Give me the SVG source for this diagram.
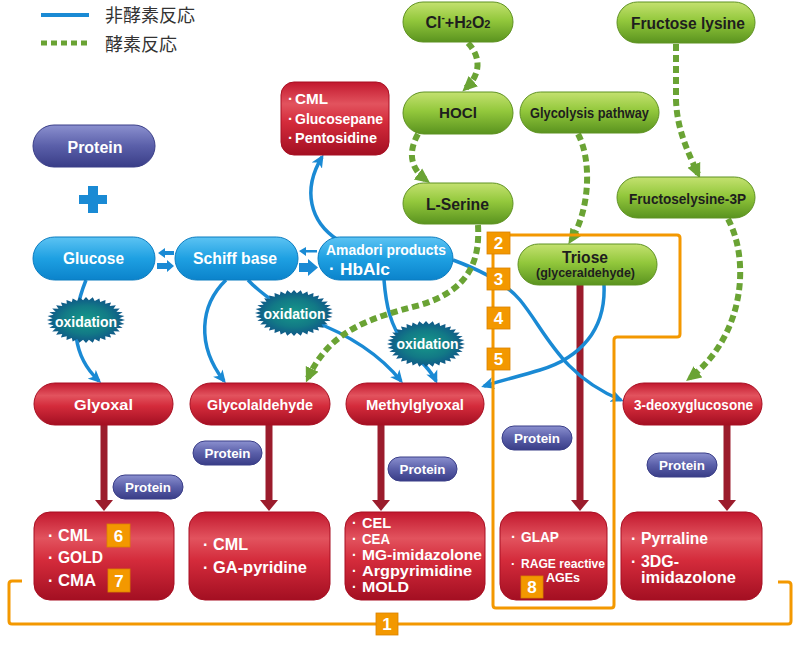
<svg xmlns="http://www.w3.org/2000/svg" xmlns:xlink="http://www.w3.org/1999/xlink" width="800" height="646" viewBox="0 0 800 646">
<style>
.t{font-family:"Liberation Sans",Arial,sans-serif;font-weight:bold}
.w{fill:#fff}
.k{fill:#1e1e1e}
.blue{fill:none;stroke:#1a8ad4;stroke-width:3.5;marker-end:url(#mBlue)}
.green{fill:none;stroke:#6aa334;stroke-width:6;stroke-dasharray:7 4;marker-end:url(#mGreen)}
.dred{stroke:#9b1c2c;stroke-width:7}
.orange{fill:none;stroke:#f39800;stroke-width:3}
.lab{fill:#f39800;stroke:#d98200;stroke-width:0.8}
.gp{fill:url(#gGreen);stroke:#5f9222;stroke-width:1}
.bp{fill:url(#gBlue);stroke:#0b7cc0;stroke-width:1}
.pp{fill:url(#gPurple);stroke:#3a3e88;stroke-width:1}
.rp{fill:url(#gRed);stroke:#a80f22;stroke-width:1}
</style>
<defs>
<linearGradient id="gGreen" x1="0" y1="0" x2="0" y2="1">
<stop offset="0" stop-color="#c4e170"/><stop offset="0.45" stop-color="#93c83c"/><stop offset="1" stop-color="#5a931f"/>
</linearGradient>
<linearGradient id="gBlue" x1="0" y1="0" x2="0" y2="1">
<stop offset="0" stop-color="#5cc3f3"/><stop offset="0.5" stop-color="#1ea0e2"/><stop offset="1" stop-color="#0b83cb"/>
</linearGradient>
<linearGradient id="gPurple" x1="0" y1="0" x2="0" y2="1">
<stop offset="0" stop-color="#8b90cf"/><stop offset="0.5" stop-color="#5a5fa9"/><stop offset="1" stop-color="#393d87"/>
</linearGradient>
<linearGradient id="gRed" x1="0" y1="0" x2="0" y2="1">
<stop offset="0" stop-color="#c2182e"/><stop offset="0.3" stop-color="#e2535e"/><stop offset="0.55" stop-color="#d42b3b"/><stop offset="1" stop-color="#a30f22"/>
</linearGradient>
<radialGradient id="gTeal" cx="0.5" cy="0.5" r="0.5">
<stop offset="0" stop-color="#17998a"/><stop offset="0.6" stop-color="#127a86"/><stop offset="1" stop-color="#0f5688"/>
</radialGradient>
<marker id="mBlue" markerUnits="userSpaceOnUse" markerWidth="13" markerHeight="13" viewBox="0 0 13 13" refX="10" refY="6.5" orient="auto">
<path d="M0,0.5 L13,6.5 L0,12.5 L3.5,6.5 Z" fill="#1a8ad4"/>
</marker>
<marker id="mGreen" markerUnits="userSpaceOnUse" markerWidth="16" markerHeight="16" viewBox="0 0 16 16" refX="10" refY="8" orient="auto">
<path d="M0,1 L15,8 L0,15 Z" fill="#6aa334"/>
</marker>
<path id="spiky" d="M100,0 L85.7,7.5 98.5,17.4 83.1,22.3 94,34.2 77.9,36.3 86.6,50 70.5,49.3 76.6,64.3 60.8,60.8 64.3,76.6 49.3,70.5 50,86.6 36.3,77.9 34.2,94 22.3,83.1 17.4,98.5 7.5,85.7 0,100 -7.5,85.7 -17.4,98.5 -22.3,83.1 -34.2,94 -36.3,77.9 -50,86.6 -49.3,70.5 -64.3,76.6 -60.8,60.8 -76.6,64.3 -70.5,49.3 -86.6,50 -77.9,36.3 -94,34.2 -83.1,22.3 -98.5,17.4 -85.7,7.5 -100,0 -85.7,-7.5 -98.5,-17.4 -83.1,-22.3 -94,-34.2 -77.9,-36.3 -86.6,-50 -70.5,-49.3 -76.6,-64.3 -60.8,-60.8 -64.3,-76.6 -49.3,-70.5 -50,-86.6 -36.3,-77.9 -34.2,-94 -22.3,-83.1 -17.4,-98.5 -7.5,-85.7 0,-100 7.5,-85.7 17.4,-98.5 22.3,-83.1 34.2,-94 36.3,-77.9 50,-86.6 49.3,-70.5 64.3,-76.6 60.8,-60.8 76.6,-64.3 70.5,-49.3 86.6,-50 77.9,-36.3 94,-34.2 83.1,-22.3 98.5,-17.4 85.7,-7.5 Z"/>
</defs>

<!-- Legend -->
<g id="legend">
<line x1="41" y1="15" x2="89" y2="15" stroke="#1a8ad4" stroke-width="4"/>
<line x1="41" y1="43" x2="89" y2="43" stroke="#6aa334" stroke-width="5" stroke-dasharray="6 4"/>
<text x="105" y="22" font-family="'Noto Sans CJK JP',sans-serif" font-size="18" fill="#333">非酵素反応</text>
<text x="105" y="51" font-family="'Noto Sans CJK JP',sans-serif" font-size="18" fill="#333">酵素反応</text>
</g>

<!-- dark red arrows -->
<g id="protein-arrows">
<line class="dred" x1="104" y1="425" x2="104" y2="502"/><polygon points="95,500 113,500 104,511" fill="#9b1c2c"/>
<line class="dred" x1="269" y1="425" x2="269" y2="502"/><polygon points="260,500 278,500 269,511" fill="#9b1c2c"/>
<line class="dred" x1="381" y1="425" x2="381" y2="502"/><polygon points="372,500 390,500 381,511" fill="#9b1c2c"/>
<line class="dred" x1="580" y1="285" x2="580" y2="502"/><polygon points="571,500 589,500 580,511" fill="#9b1c2c"/>
<line class="dred" x1="727" y1="425" x2="727" y2="502"/><polygon points="718,500 736,500 727,511" fill="#9b1c2c"/>
</g>

<!-- connectors -->
<g id="connectors">
<path class="blue" d="M86 280 C74 310, 66 350, 99 381"/>
<path class="blue" d="M226 280 C200 305, 196 345, 224 381"/>
<path class="blue" d="M248 280 C265 298, 285 310, 310 320 C350 335, 380 355, 401 381"/>
<path class="blue" d="M384 280 C386 305, 390 325, 405 345 C420 362, 430 368, 436 381"/>
<path class="blue" d="M338 240 C310 222, 302 190, 322 157"/>
<path class="blue" d="M453 260 C480 270, 505 282, 520 300 C545 330, 560 375, 621 400"/>
<path class="blue" d="M604 285 C606 330, 580 358, 540 370 C520 376, 500 381, 484 386"/>
<polygon points="158,253 165,248 165,251 174,251 174,255 165,255 165,258" fill="#1a8ad4"/>
<polygon points="174,266 167,260 167,263 157,263 157,269 167,269 167,272" fill="#1a8ad4"/>
<polygon points="299,251 306,247 306,250 317,250 317,252.5 306,252.5 306,256" fill="#1a8ad4"/>
<polygon points="299,263 308,263 308,259 318,267.5 308,276 308,272 299,272" fill="#1a8ad4"/>
<path class="green" d="M468 43 C482 58, 480 75, 466 88"/>
<path class="green" d="M418 134 C408 152, 410 168, 426 180"/>
<path class="green" d="M478 225 C480 260, 470 290, 420 305 C370 318, 330 330, 308 378"/>
<path class="green" d="M578 134 C592 160, 590 210, 571 240"/>
<path class="green" d="M676 44 L676 100 C677 130, 688 152, 698 174"/>
<path class="green" d="M728 219 C750 260, 745 335, 690 378"/>
</g>

<!-- oxidation -->
<g id="ox1"><use xlink:href="#spiky" transform="translate(86,320) scale(0.39,0.23)" fill="url(#gTeal)"/><text class="t w" x="86" y="327" font-size="14" text-anchor="middle" textLength="62" lengthAdjust="spacingAndGlyphs">oxidation</text></g>
<g id="ox2"><use xlink:href="#spiky" transform="translate(294,313) scale(0.39,0.23)" fill="url(#gTeal)"/><text class="t w" x="294.5" y="319" font-size="14" text-anchor="middle" textLength="62" lengthAdjust="spacingAndGlyphs">oxidation</text></g>
<g id="ox3"><use xlink:href="#spiky" transform="translate(426,344) scale(0.39,0.23)" fill="url(#gTeal)"/><text class="t w" x="427.5" y="349" font-size="14" text-anchor="middle" textLength="62" lengthAdjust="spacingAndGlyphs">oxidation</text></g>

<!-- green nodes -->
<g id="cl"><rect class="gp" x="403" y="2" width="110" height="40" rx="20"/><text class="t k" x="458" y="28" font-size="16" text-anchor="middle">Cl<tspan font-size="10" dy="-7">-</tspan><tspan dy="7">+H</tspan><tspan font-size="11">2</tspan>O<tspan font-size="11">2</tspan></text></g>
<g id="hocl"><rect class="gp" x="403" y="92" width="110" height="42" rx="21"/><text class="t k" x="458" y="118" font-size="15" text-anchor="middle" textLength="38" lengthAdjust="spacingAndGlyphs">HOCl</text></g>
<g id="glycolysis"><rect class="gp" x="520" y="92" width="139" height="41" rx="20.5"/><text class="t k" x="589.5" y="118" font-size="15" text-anchor="middle" textLength="119" lengthAdjust="spacingAndGlyphs">Glycolysis pathway</text></g>
<g id="fructoselysine"><rect class="gp" x="617" y="2" width="138" height="41" rx="20.5"/><text class="t k" x="688" y="29" font-size="16" text-anchor="middle" textLength="114" lengthAdjust="spacingAndGlyphs">Fructose lysine</text></g>
<g id="fructoselysine3p"><rect class="gp" x="617" y="177" width="138" height="41" rx="20.5"/><text class="t k" x="687.5" y="204" font-size="15" text-anchor="middle" textLength="117" lengthAdjust="spacingAndGlyphs">Fructoselysine-3P</text></g>
<g id="lserine"><rect class="gp" x="403" y="183" width="110" height="41" rx="20.5"/><text class="t k" x="457.5" y="210" font-size="16" text-anchor="middle" textLength="63" lengthAdjust="spacingAndGlyphs">L-Serine</text></g>
<g id="triose"><rect class="gp" x="518" y="244" width="139" height="41" rx="20.5"/><text class="t k" x="585" y="263" font-size="16" text-anchor="middle" textLength="46" lengthAdjust="spacingAndGlyphs">Triose</text><text class="t k" x="585.5" y="277" font-size="12" text-anchor="middle" textLength="99" lengthAdjust="spacingAndGlyphs">(glyceraldehyde)</text></g>

<!-- blue nodes -->
<g id="protein"><rect class="pp" x="33" y="125" width="122" height="42" rx="21"/><text class="t w" x="95" y="153" font-size="16" text-anchor="middle" textLength="55" lengthAdjust="spacingAndGlyphs">Protein</text></g>
<g id="plus"><rect x="88" y="186" width="10" height="27" fill="#1a8ad4"/><rect x="79" y="195" width="28" height="9" fill="#1a8ad4"/></g>
<g id="glucose"><rect class="bp" x="33" y="237" width="122" height="43" rx="21.5"/><text class="t w" x="93.5" y="264" font-size="16" text-anchor="middle" textLength="61" lengthAdjust="spacingAndGlyphs">Glucose</text></g>
<g id="schiff"><rect class="bp" x="175" y="237" width="123" height="43" rx="21.5"/><text class="t w" x="235" y="264" font-size="16" text-anchor="middle" textLength="84" lengthAdjust="spacingAndGlyphs">Schiff base</text></g>
<g id="amadori"><rect class="bp" x="318" y="237" width="135" height="43" rx="21.5"/><text class="t w" x="386" y="255" font-size="15" text-anchor="middle" textLength="120" lengthAdjust="spacingAndGlyphs">Amadori products</text><text class="t w" x="329" y="274" font-size="17">·</text><text class="t w" x="340" y="275" font-size="17" textLength="50" lengthAdjust="spacingAndGlyphs">HbAlc</text></g>

<!-- red nodes -->
<g id="cml-top"><rect class="rp" x="281" y="82" width="108" height="73" rx="13"/>
<text class="t w" x="288" y="104" font-size="15">·</text><text class="t w" x="295" y="104" font-size="15" textLength="33" lengthAdjust="spacingAndGlyphs">CML</text>
<text class="t w" x="288" y="124" font-size="15">·</text><text class="t w" x="295" y="124" font-size="15" textLength="88" lengthAdjust="spacingAndGlyphs">Glucosepane</text>
<text class="t w" x="288" y="143" font-size="15">·</text><text class="t w" x="295" y="143" font-size="15" textLength="82" lengthAdjust="spacingAndGlyphs">Pentosidine</text></g>
<g id="glyoxal"><rect class="rp" x="34" y="383" width="139" height="42" rx="21"/><text class="t w" x="103.5" y="410" font-size="15" text-anchor="middle" textLength="59" lengthAdjust="spacingAndGlyphs">Glyoxal</text></g>
<g id="glycolaldehyde"><rect class="rp" x="190" y="383" width="140" height="42" rx="21"/><text class="t w" x="260" y="410" font-size="15" text-anchor="middle" textLength="106" lengthAdjust="spacingAndGlyphs">Glycolaldehyde</text></g>
<g id="methylglyoxal"><rect class="rp" x="346" y="383" width="138" height="42" rx="21"/><text class="t w" x="415" y="410" font-size="15" text-anchor="middle" textLength="98" lengthAdjust="spacingAndGlyphs">Methylglyoxal</text></g>
<g id="deoxyglucosone"><rect class="rp" x="623" y="383" width="139" height="42" rx="21"/><text class="t w" x="693.5" y="410" font-size="15" text-anchor="middle" textLength="119" lengthAdjust="spacingAndGlyphs">3-deoxyglucosone</text></g>

<!-- protein small pills -->
<g id="p1"><rect class="pp" x="113" y="475" width="70" height="24" rx="12"/><text class="t w" x="148" y="492" font-size="13" text-anchor="middle" textLength="46" lengthAdjust="spacingAndGlyphs">Protein</text></g>
<g id="p2"><rect class="pp" x="193" y="441" width="69" height="24" rx="12"/><text class="t w" x="227.5" y="458" font-size="13" text-anchor="middle" textLength="46" lengthAdjust="spacingAndGlyphs">Protein</text></g>
<g id="p3"><rect class="pp" x="388" y="457" width="69" height="24" rx="12"/><text class="t w" x="422.5" y="474" font-size="13" text-anchor="middle" textLength="46" lengthAdjust="spacingAndGlyphs">Protein</text></g>
<g id="p4"><rect class="pp" x="502" y="426" width="70" height="24" rx="12"/><text class="t w" x="537" y="443" font-size="13" text-anchor="middle" textLength="46" lengthAdjust="spacingAndGlyphs">Protein</text></g>
<g id="p5"><rect class="pp" x="647" y="453" width="70" height="24" rx="12"/><text class="t w" x="682" y="470" font-size="13" text-anchor="middle" textLength="46" lengthAdjust="spacingAndGlyphs">Protein</text></g>

<!-- product boxes -->
<g id="box1"><rect class="rp" x="34" y="512" width="140" height="88" rx="16"/>
<text class="t w" x="48" y="541" font-size="16">·</text><text class="t w" x="58" y="541" font-size="16" textLength="35" lengthAdjust="spacingAndGlyphs">CML</text>
<text class="t w" x="48" y="563" font-size="16">·</text><text class="t w" x="58" y="563" font-size="16" textLength="45" lengthAdjust="spacingAndGlyphs">GOLD</text>
<text class="t w" x="48" y="586" font-size="16">·</text><text class="t w" x="58" y="586" font-size="16" textLength="38" lengthAdjust="spacingAndGlyphs">CMA</text></g>
<g id="box2"><rect class="rp" x="189" y="512" width="141" height="88" rx="16"/>
<text class="t w" x="203" y="550" font-size="16">·</text><text class="t w" x="213" y="550" font-size="16" textLength="35" lengthAdjust="spacingAndGlyphs">CML</text>
<text class="t w" x="203" y="573" font-size="16">·</text><text class="t w" x="213" y="573" font-size="16" textLength="94" lengthAdjust="spacingAndGlyphs">GA-pyridine</text></g>
<g id="box3"><rect class="rp" x="345" y="512" width="140" height="88" rx="16"/>
<text class="t w" x="352" y="528" font-size="14">·</text><text class="t w" x="362" y="528" font-size="14" textLength="29" lengthAdjust="spacingAndGlyphs">CEL</text>
<text class="t w" x="352" y="544" font-size="14">·</text><text class="t w" x="362" y="544" font-size="14" textLength="28" lengthAdjust="spacingAndGlyphs">CEA</text>
<text class="t w" x="352" y="560" font-size="14">·</text><text class="t w" x="362" y="560" font-size="14" textLength="120" lengthAdjust="spacingAndGlyphs">MG-imidazolone</text>
<text class="t w" x="352" y="576" font-size="14">·</text><text class="t w" x="362" y="576" font-size="14" textLength="110" lengthAdjust="spacingAndGlyphs">Argpyrimidine</text>
<text class="t w" x="352" y="592" font-size="14">·</text><text class="t w" x="362" y="592" font-size="14" textLength="47" lengthAdjust="spacingAndGlyphs">MOLD</text></g>
<g id="box4"><rect class="rp" x="500" y="512" width="107" height="88" rx="16"/>
<text class="t w" x="511" y="542" font-size="15">·</text><text class="t w" x="521" y="542" font-size="15" textLength="38" lengthAdjust="spacingAndGlyphs">GLAP</text>
<text class="t w" x="511" y="568" font-size="13">·</text><text class="t w" x="521" y="568" font-size="13" textLength="84" lengthAdjust="spacingAndGlyphs">RAGE reactive</text>
<text class="t w" x="546" y="582" font-size="13" textLength="34" lengthAdjust="spacingAndGlyphs">AGEs</text></g>
<g id="box5"><rect class="rp" x="621" y="512" width="141" height="88" rx="16"/>
<text class="t w" x="631" y="544" font-size="16">·</text><text class="t w" x="641" y="544" font-size="16" textLength="67" lengthAdjust="spacingAndGlyphs">Pyrraline</text>
<text class="t w" x="631" y="567" font-size="16">·</text><text class="t w" x="641" y="567" font-size="16" textLength="38" lengthAdjust="spacingAndGlyphs">3DG-</text>
<text class="t w" x="641" y="583" font-size="16" textLength="95" lengthAdjust="spacingAndGlyphs">imidazolone</text></g>

<!-- orange brackets and labels -->
<g id="brackets">
<path class="orange" d="M22 581 L12 581 Q9 581 9 584 L9 621 Q9 624 12 624 L788 624 Q791 624 791 621 L791 585 Q791 582 788 582 L778 582"/>
<path class="orange" d="M493 235 L677 235 Q680 235 680 238 L680 334 Q680 337 677 337 L617 337 Q614 337 614 340 L614 605 Q614 608 611 608 L496 608 Q493 608 493 605 Z"/>
</g>
<g id="label1"><rect class="lab" x="376" y="613" width="22" height="22"/><text class="t w" x="387" y="630" font-size="17" text-anchor="middle">1</text></g>
<g id="label2"><rect class="lab" x="487" y="232" width="23" height="22"/><text class="t w" x="498.5" y="249" font-size="17" text-anchor="middle">2</text></g>
<g id="label3"><rect class="lab" x="487" y="268" width="23" height="22"/><text class="t w" x="498.5" y="285" font-size="17" text-anchor="middle">3</text></g>
<g id="label4"><rect class="lab" x="487" y="307" width="23" height="22"/><text class="t w" x="498.5" y="324" font-size="17" text-anchor="middle">4</text></g>
<g id="label5"><rect class="lab" x="487" y="348" width="23" height="22"/><text class="t w" x="498.5" y="365" font-size="17" text-anchor="middle">5</text></g>
<g id="label6"><rect class="lab" x="107" y="524" width="23" height="23"/><text class="t w" x="118.5" y="542" font-size="17" text-anchor="middle">6</text></g>
<g id="label7"><rect class="lab" x="108" y="569" width="22" height="23"/><text class="t w" x="119" y="587" font-size="17" text-anchor="middle">7</text></g>
<g id="label8"><rect class="lab" x="521" y="576" width="22" height="22"/><text class="t w" x="532" y="593" font-size="17" text-anchor="middle">8</text></g>
</svg>
